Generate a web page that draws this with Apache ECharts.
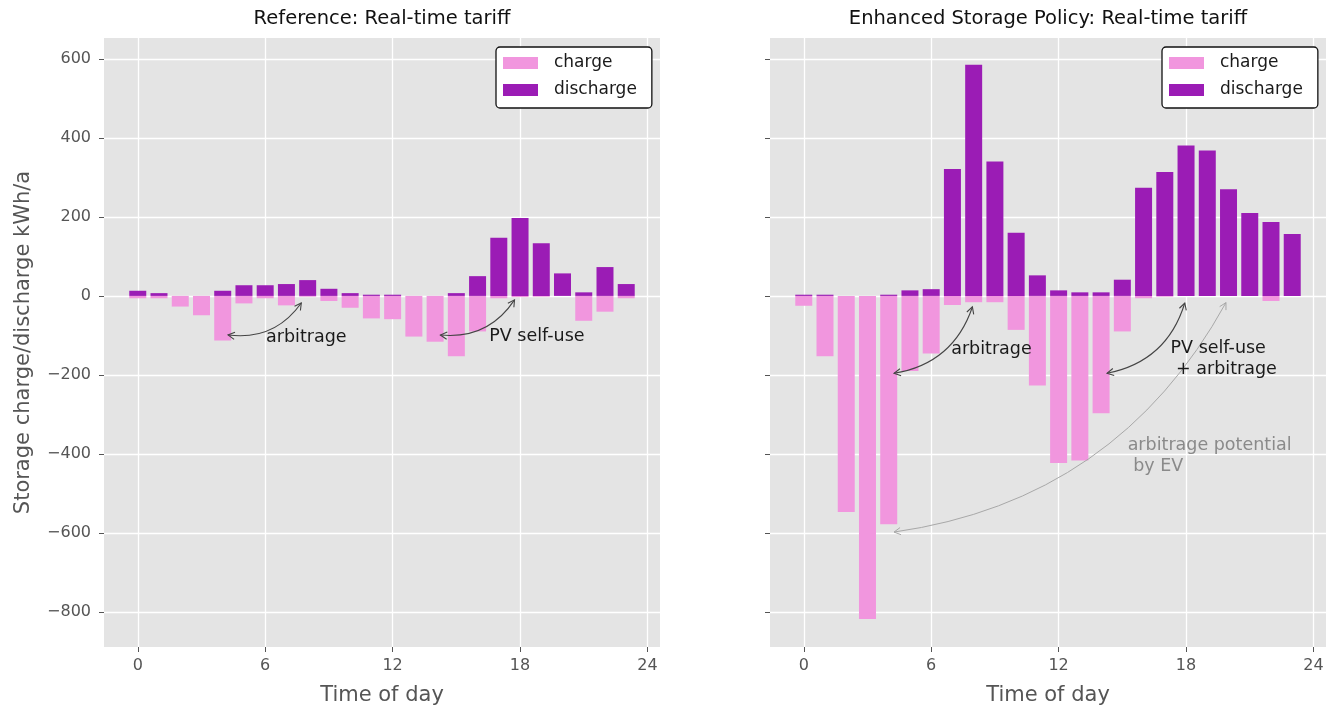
<!DOCTYPE html>
<html><head><meta charset="utf-8">
<script src="https://cdn.jsdelivr.net/npm/echarts@6/dist/echarts.min.js"></script>
<style>html,body{margin:0;padding:0;background:#fff}#c{width:1329px;height:708px}</style>
</head><body><div id="c"></div>
<script>
// ---------- data ----------
const hours = [0,1,2,3,4,5,6,7,8,9,10,11,12,13,14,15,16,17,18,19,20,21,22,23];
const refCharge    = [-6,-6,-27,-49,-113,-19,-6,-24,-2,-13,-30,-57,-59,-103,-116,-153,-90,-6,-3,-2,0,-63,-40,-6];
const refDischarge = [13,7,0,0,13,27,27,30,40,18,7,3,3,0,0,7,50,147,197,133,57,9,73,30];
const espCharge    = [-25,-153,-547,-818,-578,-190,-146,-23,-16,-16,-86,-227,-423,-417,-297,-90,-6,-2,0,0,0,0,-13,0];
const espDischarge = [3,3,0,0,3,14,17,321,585,340,160,52,14,9,9,41,274,314,381,368,270,210,187,157];
const xTicks = [0,6,12,18,24];
const yTicks = [-800,-600,-400,-200,0,200,400,600];
const panelTitles = ['Reference: Real-time tariff', 'Enhanced Storage Policy: Real-time tariff'];
const seriesNames = ['charge', 'discharge'];
const xName = 'Time of day';
const yName = 'Storage charge/discharge kWh/a';
// annotation arrows: [x1, y1, x2, y2] in data units
const refArrows = [[4.25,-99,7.7,-18],[14.25,-99,17.74,-10]];
const espArrows = [[4.25,-196,7.94,-28],[14.28,-196,17.94,-18],[4.25,-598,19.88,-17]];
// annotation texts and their anchors (data units, left / middle of first line)
const refNotes = ['arbitrage', 'PV self-use'];
const refNoteAt = [[6.04,-104],[16.55,-103]];
const espNotes = ['arbitrage', 'PV self-use\n + arbitrage', 'arbitrage potential\n by EV'];
const espNoteAt = [[6.94,-136],[17.27,-132],[15.25,-379]];

// ---------- layout / style ----------
const X_MIN = -1.59, X_MAX = 24.59, Y_MIN = -889, Y_MAX = 653;
const FONT = '"DejaVu Sans", "Liberation Sans", sans-serif';
const GRID_W = 556, GRID_H = 609, GRID_TOP = 38;
const gridLefts = [104, 770];
const C_CHARGE = '#F196DE', C_DISCHARGE = '#9B1CB5';
const BAR_W = 0.8 * GRID_W / (X_MAX - X_MIN);

const chart = echarts.init(document.getElementById('c'), null, {renderer: 'canvas'});

function fmt(v) { return v < 0 ? '\u2212' + Math.abs(v) : String(v); }

function makeArrowRender(list, styles) {
  return function (params, api) {
    const a = list[params.dataIndex];
    const st = styles[params.dataIndex];
    const p1 = api.coord([a[0], a[1]]);
    const p2 = api.coord([a[2], a[3]]);
    const dx = p2[0] - p1[0], dy = p2[1] - p1[1];
    const cp = [(p1[0] + p2[0]) / 2 - st.rad * dy, (p1[1] + p2[1]) / 2 + st.rad * dx];
    const head = (p, q) => {
      let ux = q[0] - p[0], uy = q[1] - p[1];
      const l = Math.hypot(ux, uy); ux /= l; uy /= l;
      const L = 7.5, th = 0.5;
      const r = (ang) => [p[0] + L * (ux * Math.cos(ang) - uy * Math.sin(ang)), p[1] + L * (ux * Math.sin(ang) + uy * Math.cos(ang))];
      return {type: 'polyline', shape: {points: [r(th), p, r(-th)]}, style: {stroke: st.color, lineWidth: st.lw, fill: null}};
    };
    return {
      type: 'group',
      children: [
        {type: 'bezierCurve', shape: {x1: p1[0], y1: p1[1], x2: p2[0], y2: p2[1], cpx1: cp[0], cpy1: cp[1]},
         style: {stroke: st.color, lineWidth: st.lw, fill: null}},
        head(p1, cp), head(p2, cp)
      ]
    };
  };
}

function makeNoteRender(texts, colors) {
  return function (params, api) {
    const p = api.coord([api.value(0), api.value(1)]);
    return {
      type: 'text', x: p[0], y: p[1] - 10.5,
      style: {text: texts[params.dataIndex], fill: colors[params.dataIndex], fontSize: 17.5, fontFamily: FONT,
              align: 'left', verticalAlign: 'top', lineHeight: 21}
    };
  };
}

const grids = gridLefts.map(l => ({left: l, top: GRID_TOP, width: GRID_W, height: GRID_H, show: true,
  backgroundColor: '#E4E4E4', borderWidth: 0, outerBoundsMode: 'none', containLabel: false}));

const xAxes = [0, 1].map(i => ({
  gridIndex: i, type: 'value', min: X_MIN, max: X_MAX, position: 'bottom',
  axisLine: {show: false, onZero: false},
  axisTick: {show: true, length: 5, customValues: xTicks, lineStyle: {color: '#555', width: 1}},
  axisLabel: {customValues: xTicks, color: '#555', fontSize: 16, fontFamily: FONT, margin: 11, formatter: fmt},
  splitLine: {show: true, lineStyle: {color: '#fff', width: 1.3}},
  name: xName, nameLocation: 'middle', nameGap: 38,
  nameTextStyle: {color: '#555', fontSize: 21, fontFamily: FONT}
}));

const yAxes = [0, 1].map(i => ({
  gridIndex: i, type: 'value', min: Y_MIN, max: Y_MAX, position: 'left',
  axisLine: {show: false, onZero: false},
  axisTick: {show: true, length: 5, customValues: yTicks, lineStyle: {color: '#555', width: 1}},
  axisLabel: {show: i === 0, customValues: yTicks, color: '#555', fontSize: 16, fontFamily: FONT, margin: 13, formatter: fmt},
  splitLine: {show: true, lineStyle: {color: '#fff', width: 1.3}},
  name: i === 0 ? yName : '', nameLocation: 'middle', nameGap: 70, nameRotate: 90,
  nameTextStyle: {color: '#555', fontSize: 21, fontFamily: FONT}
}));

function barSeries(name, idx, values, color) {
  return {
    type: 'bar', name: name, xAxisIndex: idx, yAxisIndex: idx,
    data: hours.map((h, k) => [h, values[k]]),
    barWidth: BAR_W, barGap: '-100%',
    itemStyle: {color: color},
    emphasis: {disabled: true}
  };
}

const blackArrow = {color: '#444', lw: 1.1, rad: 0.3};
const grayArrow = {color: '#A8A8A8', lw: 1.0, rad: 0.25};

const series = [
  barSeries(seriesNames[0], 0, refCharge, C_CHARGE),
  barSeries(seriesNames[1], 0, refDischarge, C_DISCHARGE),
  barSeries(seriesNames[0], 1, espCharge, C_CHARGE),
  barSeries(seriesNames[1], 1, espDischarge, C_DISCHARGE),
  {type: 'custom', name: 'arrowsL', xAxisIndex: 0, yAxisIndex: 0, data: refArrows, encode: {x: [0, 2], y: [1, 3]},
   renderItem: makeArrowRender(refArrows, [blackArrow, blackArrow]), silent: true, z: 5},
  {type: 'custom', name: 'arrowsR', xAxisIndex: 1, yAxisIndex: 1, data: espArrows, encode: {x: [0, 2], y: [1, 3]},
   renderItem: makeArrowRender(espArrows, [blackArrow, blackArrow, grayArrow]), silent: true, z: 5},
  {type: 'custom', name: 'notesL', xAxisIndex: 0, yAxisIndex: 0, data: refNoteAt, encode: {x: 0, y: 1},
   renderItem: makeNoteRender(refNotes, ['#1a1a1a', '#1a1a1a']), silent: true, z: 6},
  {type: 'custom', name: 'notesR', xAxisIndex: 1, yAxisIndex: 1, data: espNoteAt, encode: {x: 0, y: 1},
   renderItem: makeNoteRender(espNotes, ['#1a1a1a', '#1a1a1a', '#8a8a8a']), silent: true, z: 6}
];

const legendBase = {
  orient: 'vertical', top: 47, data: seriesNames, icon: 'rect',
  itemWidth: 35, itemHeight: 12, itemGap: 7,
  padding: [6, 15, 8, 7],
  backgroundColor: '#fff', borderColor: '#111', borderWidth: 1.3, borderRadius: 4,
  textStyle: {color: '#1a1a1a', fontSize: 17, fontFamily: FONT, padding: [0, 0, 0, 11], lineHeight: 20},
  selectedMode: false
};

chart.setOption({
  animation: false,
  backgroundColor: '#fff',
  title: panelTitles.map((t, i) => ({
    text: t, left: gridLefts[i] + GRID_W / 2, top: 9, textAlign: 'center', padding: 0,
    textStyle: {color: '#111', fontSize: 19.5, fontWeight: 'normal', fontFamily: FONT}
  })),
  legend: [Object.assign({left: 496}, legendBase), Object.assign({left: 1162}, legendBase)],
  grid: grids,
  xAxis: xAxes,
  yAxis: yAxes,
  series: series
});
</script>
</body></html>
